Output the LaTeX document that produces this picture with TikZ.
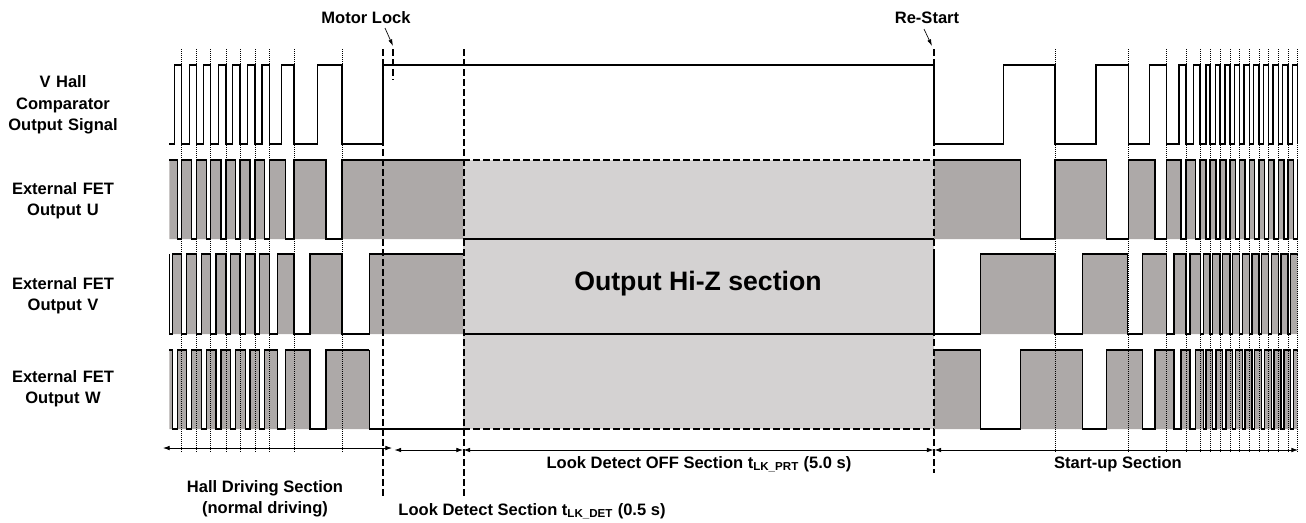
\documentclass[tikz,border=0pt]{standalone}
\usepackage{fontspec}
\setmainfont{Liberation Sans}
\usetikzlibrary{arrows.meta,positioning}
\definecolor{fetgray}{RGB}{173,169,168}
\definecolor{hizgray}{RGB}{212,210,210}
\tikzset{every picture/.style={line width=0.75pt},
  wave/.style={line width=0.9pt},
  markline/.style={line width=1.5pt, dash pattern=on 5pt off 2.5pt},
  hizborder/.style={line width=1.2pt, dash pattern=on 5pt off 2.5pt},
  hallmark/.style={line width=0.5pt, densely dotted},
  lbl/.style={font=\bfseries\fontsize{12.4}{16}\selectfont, align=center, inner sep=0pt},
  pointer/.style={line width=0.5pt, -{Latex[length=5pt,width=3pt]}},
  sectarrow/.style={line width=0.6pt, {Latex[length=5pt,width=3.5pt]}-{Latex[length=5pt,width=3.5pt]}}}
% FET 输出: #1 上沿 #2 下沿 #3 起点 #4 终点 #5 低电平区间
\newcommand{\fetrow}[5]{%
  \fill[fetgray] (#3,#2) -- (#3,#1) foreach \a/\b in {#5} { -- (\a,#1) -- (\a,#2) -- (\b,#2) -- (\b,#1) } -- (#4,#1) -- (#4,#2) -- cycle;
  \draw[wave] (#3,#1) foreach \a/\b in {#5} { -- (\a,#1) -- (\a,#2) -- (\b,#2) -- (\b,#1) } -- (#4,#1);}

\begin{document}
\begin{tikzpicture}[x=0.75pt, y=-0.75pt]
    \useasboundingbox (0,0) rectangle (1306,522);

    % 高阻区
    \fill[hizgray] (463,160) rectangle (934,429);
    \node[font=\bfseries\fontsize{20}{24}\selectfont] (hiz) at (698,284) {Output Hi-Z section};

    % 霍尔比较器输出
    \draw[wave] (169.3,144) foreach \a/\b in {174.7/181.7, 189.3/196.7, 203.3/210.7, 218.3/226, 232.7/240,
        247.3/255, 262/269.3, 281.3/294, 317.7/342, 383/934, 1003.3/1055, 1096/1128.3, 1149.3/1166.7,
        1179/1186, 1193.3/1200, 1206/1210, 1215.7/1220, 1225/1230, 1234.3/1239.3, 1244/1249.3,
        1253.7/1259, 1263.3/1268.3, 1273/1278.3, 1282.7/1288, 1292.3/1297.7}
        { -- (\a,144) -- (\a,65) -- (\b,65) -- (\b,144) };

    % 输出 U
    \fetrow{160}{239}{169.3}{463}{177.3/181.7, 191.7/196.7, 206.7/210.7, 221/226, 235.7/240, 250/255,
        264.7/269.3, 285.7/294, 326/342}
    \fetrow{160}{239}{934}{1297.7}{1020.7/1055, 1106.7/1128.3, 1155/1166.7, 1181/1186, 1195.7/1200,
        1206/1210, 1216/1220, 1226/1230, 1235.3/1239.3, 1245/1249.3, 1254.7/1259, 1264.3/1268.3,
        1274/1278.3, 1284/1288, 1293.7/1297.7}

    % 输出 V
    \fetrow{254}{334}{169.3}{463}{169.3/172.3, 181.7/186.7, 196.7/201.7, 210.7/216, 226/230.7, 240/245.3,
        255/259.3, 269.3/277.3, 294/310, 342/369.3}
    \fetrow{254}{334}{934}{1297.7}{934/980.7, 1055/1082.3, 1127.7/1142.3, 1166.7/1174, 1186/1190,
        1200.7/1203.3, 1210/1212.7, 1220/1222.7, 1230/1232.3, 1239.3/1242.3, 1249.3/1252, 1259/1261.7,
        1268.3/1271.3, 1278.3/1281, 1288/1290.7}

    % 输出 W
    \fetrow{350}{429}{169.3}{369.3}{172.3/177.3, 186.7/191.7, 201.7/206.7, 216/221, 230.7/235.7,
        245.3/250, 259.3/264.7, 277.3/285.7, 310/326}
    \draw[wave] (369.3,350) -- (369.3,429) -- (463,429);
    \fetrow{350}{429}{934}{1297.7}{980.7/1020.7, 1082.3/1106.7, 1142.3/1155, 1174/1181, 1190/1195.7,
        1203.3/1206, 1212.7/1216, 1222.7/1226, 1232.3/1235.3, 1242.3/1245, 1252/1254.7, 1261.7/1264.3,
        1271.3/1274, 1281/1284, 1290.7/1293.7}

    % 高阻区边线
    \draw[hizborder] (463,160) -- (934,160);
    \draw[hizborder] (463,429) -- (934,429);
    \draw[wave] (463,239) -- (934,239);
    \draw[wave] (463,334) -- (934,334);

    % 霍尔下降沿
    \foreach \x in {181.7, 196.7, 210.7, 226, 240, 255, 269.3, 294, 342, 1055, 1128.3, 1166.7, 1186,
        1200, 1210, 1220, 1230, 1239.3, 1249.3, 1259, 1268.3, 1278.3, 1288, 1297.7}
        \draw[hallmark] (\x,49) -- (\x,452);

    % 时刻线
    \draw[markline] (383,49) -- (383,497);
    \draw[markline] (393.3,49) -- (393.3,80);
    \draw[markline] (463.5,49) -- (463.5,497);
    \draw[markline] (934,49) -- (934,473);

    % 时刻标注
    \node[lbl] (motorlock) at (366,18) {Motor Lock};
    \coordinate (lockfrom) at (385,28);
    \coordinate (lockto) at (393,46);
    \draw[pointer] (lockfrom) -- (lockto);
    \node[lbl] (restart) at (927,18) {Re-Start};
    \coordinate (restartfrom) at (924,29);
    \coordinate (restartto) at (932,46);
    \draw[pointer] (restartfrom) -- (restartto);

    % 信号名称
    \node[lbl, text width=140pt] (lblhall) at (63,105) {V Hall\\Comparator\\Output Signal};
    \node[lbl, text width=140pt] (lblu) at (63,201) {External FET\\Output U};
    \node[lbl, text width=140pt] (lblv) at (63,296) {External FET\\Output V};
    \node[lbl, text width=140pt] (lblw) at (63,389) {External FET\\Output W};

    % 区段箭头
    \coordinate (hallL) at (163,448);
    \coordinate (hallR) at (392,448);
    \coordinate (detL) at (394.5,450);
    \coordinate (detR) at (463,450);
    \coordinate (offL) at (463.5,450);
    \coordinate (offR) at (933.5,450);
    \coordinate (startL) at (934.5,450);
    \coordinate (startR) at (1298,450);
    \draw[sectarrow] (hallL) -- (hallR);
    \draw[sectarrow] (detL) -- (detR);
    \draw[sectarrow] (offL) -- (offR);
    \draw[sectarrow] (startL) -- (startR);

    % 区段名称
    \node[lbl] (sechall) at (265,499) {Hall Driving Section\\(normal driving)};
    \node[lbl] (secdet) at (532,511) {Look Detect Section t\textsubscript{LK\_DET} (0.5 s)};
    \node[lbl] (secoff) at (699,464) {Look Detect OFF Section t\textsubscript{LK\_PRT} (5.0 s)};
    \node[lbl] (secstart) at (1118,464) {Start-up Section};
\end{tikzpicture}
\end{document}
